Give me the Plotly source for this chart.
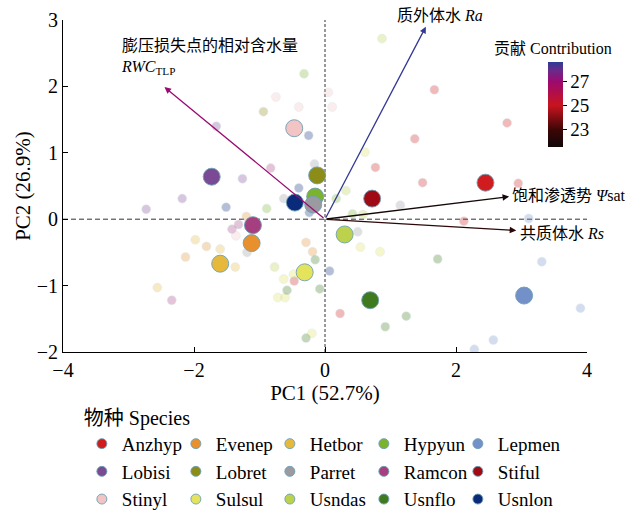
import plotly.graph_objects as go

# ---------------- data ----------------
species = ["Anzhyp", "Evenep", "Hetbor", "Hypyun", "Lepmen",
           "Lobisi", "Lobret", "Parret", "Ramcon", "Stiful",
           "Stinyl", "Sulsul", "Usndas", "Usnflo", "Usnlon"]
colors = ["#d01c1f", "#e8902e", "#e6b93c", "#7bb42c", "#7391c8",
          "#7a4a94", "#8c8c18", "#9a9aa0", "#a63f80", "#a00a14",
          "#f2c4c4", "#e4e45c", "#bcd24c", "#3f7a1e", "#0a2b7a"]

# species means (PC1, PC2)
mean_pc1 = [2.45, -1.12, -1.60, -0.15, 3.04, -1.73, -0.12, -0.18, -1.10, 0.72,
            -0.47, -0.31, 0.30, 0.69, -0.46]
mean_pc2 = [0.55, -0.36, -0.67, 0.34, -1.15, 0.64, 0.66, 0.22, -0.09, 0.31,
            1.37, -0.80, -0.23, -1.22, 0.25]

# individual observations per species
ind_pc1 = {
    "Anzhyp": [1.67, 2.78, 1.37, 0.77, 1.49, 2.95, 2.12, -0.47, 0.23],
    "Evenep": [-1.20, -1.81, -2.13, -0.29, -0.19],
    "Hetbor": [-1.98, -1.60, -1.37, -2.56],
    "Hypyun": [-0.32, 0.17, 0.42, -0.89],
    "Lepmen": [3.11, 3.31, 3.90, 2.57, 2.28],
    "Lobisi": [-1.66, -1.26, -2.18, -2.73],
    "Lobret": [-0.94],
    "Parret": [-0.16, -0.63, -1.19, 1.15, 0.50],
    "Ramcon": [-0.83, -1.32, -1.42, -2.34],
    "Stiful": [],
    "Stinyl": [-0.75, -0.40, 0.05, 0.11, -1.36],
    "Sulsul": [-0.63, -0.48, -0.72, -0.61, -0.20, 0.61, 0.54, 0.84],
    "Usndas": [-0.77, 0.32, 0.58, 0.87],
    "Usnflo": [1.72, 1.24, 0.92, -0.08, -0.15, -0.29, -0.58],
    "Usnlon": [-0.25, -0.40, -0.24, -1.51, 0.07],
}
ind_pc2 = {
    "Anzhyp": [1.95, 1.45, 1.21, 0.78, 0.55, 0.54, -0.03, -0.93, -1.42],
    "Evenep": [0.04, -0.41, -0.57, -0.35, -0.49],
    "Hetbor": [-0.31, -0.45, -0.72, -1.03],
    "Hypyun": [2.19, 0.31, 0.08, 0.16],
    "Lepmen": [0.01, -0.64, -1.34, -1.82, -1.96],
    "Lobisi": [1.40, 0.61, 0.31, 0.15],
    "Lobret": [1.62],
    "Parret": [0.83, 0.31, -0.50, 0.21, -0.19],
    "Ramcon": [0.77, -0.08, -0.15, -1.22],
    "Stiful": [],
    "Stinyl": [1.84, 1.69, 1.91, 1.69, -0.25],
    "Sulsul": [-0.90, -0.83, -1.18, -1.18, -1.72, 1.01, -0.42, -0.49],
    "Usndas": [-0.72, 0.43, 0.07, 2.72],
    "Usnflo": [-0.60, -1.46, -1.62, -1.05, -0.61, -1.79, -1.07],
    "Usnlon": [1.26, 0.47, 0.10, 0.18, -0.78],
}

# loadings (arrows)
var_labels = ["质外体水 <i>Ra</i>", "膨压损失点的相对含水量<br><i>RWC</i><sub>TLP</sub>",
              "饱和渗透势 <i>Ψ</i>sat", "共质体水 <i>Rs</i>"]
load_pc1 = [1.54, -2.45, 2.81, 2.92]
load_pc2 = [2.90, 1.99, 0.34, -0.17]
contrib = [28.5, 27.0, 21.7, 22.4]

cb_min, cb_max = 21.5, 28.6
cb_ticks = [23, 25, 27]
cb_title = "贡献 Contribution"
legend_title = "物种 Species"
cscale = [[0.0, "#100808"], [0.2, "#3c0606"], [0.49, "#c8141e"],
          [0.77, "#9c0a70"], [0.9, "#6a2a8a"], [1.0, "#2b3d96"]]

FONT = "Liberation Serif, Times New Roman, Noto Sans CJK SC, serif"


def contrib_color(v):
    t = (v - cb_min) / (cb_max - cb_min)
    t = min(max(t, 0), 1)
    for i in range(len(cscale) - 1):
        a, ca = cscale[i]
        b, cb = cscale[i + 1]
        if a <= t <= b:
            f = (t - a) / (b - a) if b > a else 0
            c1 = [int(ca[k:k + 2], 16) for k in (1, 3, 5)]
            c2 = [int(cb[k:k + 2], 16) for k in (1, 3, 5)]
            c = [round(c1[j] + (c2[j] - c1[j]) * f) for j in range(3)]
            return "rgb({},{},{})".format(*c)
    return cscale[-1][1]


fig = go.Figure()

# faint individual points
for sp, col in zip(species, colors):
    if ind_pc1[sp]:
        fig.add_trace(go.Scatter(
            x=ind_pc1[sp], y=ind_pc2[sp], mode="markers",
            marker=dict(size=9, color=col, opacity=0.3,
                        line=dict(color="rgba(150,190,200,0.6)", width=0.8)),
            showlegend=False, hoverinfo="skip"))

# species means
for i, sp in enumerate(species):
    fig.add_trace(go.Scatter(
        x=[mean_pc1[i]], y=[mean_pc2[i]], mode="markers",
        marker=dict(size=17, color=colors[i],
                    line=dict(color="rgba(110,160,180,0.9)", width=1)),
        showlegend=False, name=sp))

# legend entries
for sp, col in zip(species, colors):
    fig.add_trace(go.Scatter(
        x=[None], y=[None], mode="markers", name=sp,
        marker=dict(size=10, color=col,
                    line=dict(color="rgba(110,160,180,0.9)", width=1)),
        showlegend=True))

# colorbar trace
fig.add_trace(go.Scatter(
    x=[None], y=[None], mode="markers", showlegend=False,
    marker=dict(color=[cb_min], cmin=cb_min, cmax=cb_max, colorscale=cscale,
                showscale=True,
                colorbar=dict(
                    x=0.926, xanchor="left", y=0.873, yanchor="top",
                    len=85, lenmode="pixels", thickness=15,
                    outlinewidth=0, tickvals=cb_ticks, ticks="outside",
                    ticklen=4, tickcolor="black", ypad=0, xpad=0,
                    tickfont=dict(family=FONT, size=19, color="black"),
                ))))

annotations = []
for lx, ly, c in zip(load_pc1, load_pc2, contrib):
    annotations.append(dict(
        x=lx, y=ly, ax=0, ay=0, xref="x", yref="y", axref="x", ayref="y",
        text="", showarrow=True, arrowhead=2, arrowsize=1, arrowwidth=1.3,
        arrowcolor=contrib_color(c), standoff=0, startstandoff=0))

lab_font = dict(family=FONT, size=16, color="black")
annotations += [
    dict(x=1.75, y=1.015, xref="x", yref="paper", text=var_labels[0], showarrow=False,
         font=lab_font, xanchor="center", yanchor="middle"),
    dict(x=-3.14, y=2.45, xref="x", yref="y", text=var_labels[1], showarrow=False,
         font=lab_font, xanchor="left", yanchor="middle", align="left"),
    dict(x=2.82, y=0.35, xref="x", yref="y", text=var_labels[2], showarrow=False,
         font=lab_font, xanchor="left", yanchor="middle"),
    dict(x=2.94, y=-0.22, xref="x", yref="y", text=var_labels[3], showarrow=False,
         font=lab_font, xanchor="left", yanchor="middle"),
    dict(x=0.935, y=0.913, xref="paper", yref="paper", text=cb_title, showarrow=False,
         font=lab_font, xanchor="center", yanchor="middle"),
]

shapes = [
    dict(type="line", xref="x", yref="y", x0=-4, x1=4, y0=0, y1=0,
         line=dict(color="#333333", width=1, dash="5px,3px"), layer="below"),
    dict(type="line", xref="x", yref="y", x0=0, x1=0, y0=-2, y1=3,
         line=dict(color="#333333", width=1, dash="3px,2px"), layer="below"),
]

axis_common = dict(showline=True, linecolor="black", linewidth=1, mirror=False,
                   ticks="inside", ticklen=5, tickcolor="black", showgrid=False,
                   zeroline=False, automargin=False,
                   tickfont=dict(family=FONT, size=20, color="black"))

fig.update_layout(
    width=635, height=511,
    margin=dict(l=63, r=48, t=20, b=159, autoexpand=False),
    paper_bgcolor="white", plot_bgcolor="white",
    font=dict(family=FONT, color="black"),
    xaxis=dict(range=[-4, 4], tickvals=[-4, -2, 0, 2, 4],
               title=dict(text="PC1 (52.7%)", font=dict(family=FONT, size=21), standoff=4),
               **axis_common),
    yaxis=dict(range=[-2, 3], tickvals=[-2, -1, 0, 1, 2, 3],
               title=dict(text="PC2 (26.9%)", font=dict(family=FONT, size=21), standoff=0),
               **axis_common),
    legend=dict(orientation="h", x=0.036, xanchor="left", y=-0.141, yanchor="top",
                entrywidth=49, entrywidthmode="pixels",
                title=dict(text=legend_title + "\u00a0" * 80, side="top",
                           font=dict(family=FONT, size=20)),
                font=dict(family=FONT, size=19, color="black"),
                bgcolor="rgba(0,0,0,0)", tracegroupgap=0),
    annotations=annotations,
    shapes=shapes,
    showlegend=True,
)

fig.write_html("out.html", config={"displayModeBar": False},
               post_script="document.body.style.margin='0';")
